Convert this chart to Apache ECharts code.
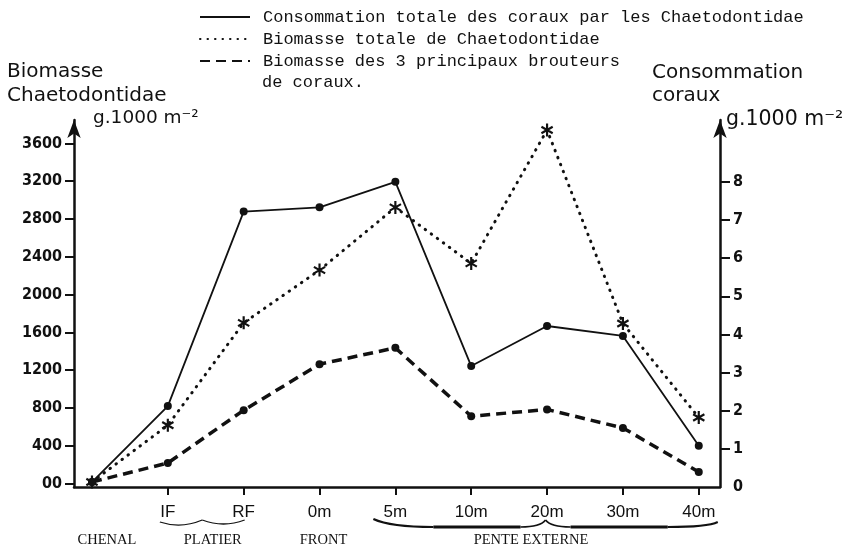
<!DOCTYPE html>
<html>
<head>
<meta charset="utf-8">
<script src="https://cdn.jsdelivr.net/npm/echarts@6.0.0/dist/echarts.min.js"></script>
<style>
	html, body { margin: 0; padding: 0; background: #fff; }
	#chart { width: 847px; height: 547px; }
</style>
</head>
<body>
<div id="chart"></div>
<script>
	// stations along the transect (index 0 = chenal, no label under the axis)
	var sites = ['', 'IF', 'RF', '0m', '5m', '10m', '20m', '30m', '40m'];
	// g.1000 m-2, right axis
	var consommation = [0.13, 2.12, 7.22, 7.33, 8.0, 3.17, 4.22, 3.96, 1.08];
	// g.1000 m-2, left axis
	var biomasseTotale = [17, 617, 1701, 2259, 2922, 2330, 3741, 1694, 699];
	var biomasseBrouteurs = [17, 218, 776, 1263, 1436, 713, 784, 589, 123];

	var leftTicks = [0, 400, 800, 1200, 1600, 2000, 2400, 2800, 3200, 3600];
	var leftTickLabels = ['00', '400', '800', '1200', '1600', '2000', '2400', '2800', '3200', '3600'];
	var rightTicks = [0, 1, 2, 3, 4, 5, 6, 7, 8];

	var zoneNames = ['CHENAL', 'PLATIER', 'FRONT', 'PENTE EXTERNE'];
	var zoneSpans = [[0, 0], [1, 2], [3, 3], [4, 8]];

	var legendNames = [
		'Consommation totale des coraux par les Chaetodontidae',
		'Biomasse totale de Chaetodontidae',
		'Biomasse des 3 principaux brouteurs'
	];

	function pairs(arr) {
		return arr.map(function (v, i) { return [i, v]; });
	}

	var asterisk = 'path://M-1,-6L1,-6L1,6L-1,6Z' +
		'M4.696,-3.866L5.696,-2.134L-4.696,3.866L-5.696,2.134Z' +
		'M-5.696,-2.134L-4.696,-3.866L5.696,2.134L4.696,3.866Z';

	var tickFont = "'Liberation Sans Narrow', 'DejaVu Sans Condensed', sans-serif";

	var dom = document.getElementById('chart');
	var myChart = echarts.init(dom, null, { renderer: 'canvas' });

	var option = {
		backgroundColor: '#fff',
		animation: false,
		legend: {
			orient: 'vertical',
			left: 194,
			top: 2,
			itemWidth: 50,
			itemHeight: 14,
			itemGap: 2,
			itemStyle: { opacity: 0 },
			data: legendNames,
			textStyle: {
				fontFamily: "'Liberation Mono', 'DejaVu Sans Mono', monospace",
				fontSize: 17,
				lineHeight: 20,
				color: '#111',
				padding: [0, 0, 0, 8]
			}
		},
		grid: {
			left: 74,
			right: 127,
			top: 120,
			bottom: 60,
			outerBoundsMode: 'none'
		},
		xAxis: {
			type: 'value',
			min: -0.237,
			max: 8.28,
			splitLine: { show: false },
			axisLine: { show: true, onZero: false, lineStyle: { color: '#111', width: 2.5 } },
			axisTick: {
				show: true,
				customValues: [1, 2, 3, 4, 5, 6, 7, 8],
				length: 8,
				lineStyle: { color: '#111', width: 2 }
			},
			axisLabel: {
				customValues: [1, 2, 3, 4, 5, 6, 7, 8],
				formatter: function (v) { return sites[Math.round(v)]; },
				margin: 17,
				fontFamily: "'Liberation Sans', Arial, sans-serif",
				fontSize: 17,
				color: '#111'
			}
		},
		yAxis: [
			{
				type: 'value',
				position: 'left',
				min: -36,
				max: 3847,
				splitLine: { show: false },
				axisLine: {
					show: true,
					onZero: false,
					symbol: ['none', 'arrow'],
					symbolSize: [10, 18],
					lineStyle: { color: '#111', width: 2.5 }
				},
				axisTick: {
					show: true,
					customValues: leftTicks,
					length: 9,
					lineStyle: { color: '#111', width: 2 }
				},
				axisLabel: {
					customValues: leftTicks,
					formatter: function (v) { return leftTickLabels[leftTicks.indexOf(v)]; },
					margin: 12,
					fontFamily: tickFont,
					fontWeight: 'bold',
					fontSize: 16,
					color: '#111'
				}
			},
			{
				type: 'value',
				position: 'right',
				min: 0,
				max: 9.62,
				splitLine: { show: false },
				axisLine: {
					show: true,
					onZero: false,
					symbol: ['none', 'arrow'],
					symbolSize: [10, 18],
					lineStyle: { color: '#111', width: 2.5 }
				},
				axisTick: {
					show: true,
					customValues: rightTicks.slice(1),
					length: 10,
					lineStyle: { color: '#111', width: 2 }
				},
				axisLabel: {
					customValues: rightTicks,
					margin: 13,
					fontFamily: tickFont,
					fontWeight: 'bold',
					fontSize: 16,
					color: '#111'
				}
			}
		],
		series: [
			{
				name: legendNames[0],
				type: 'line',
				yAxisIndex: 1,
				data: pairs(consommation),
				symbol: 'circle',
				symbolSize: 8,
				itemStyle: { color: '#111' },
				lineStyle: { color: '#111', width: 1.8, type: 'solid' }
			},
			{
				name: legendNames[1],
				type: 'line',
				yAxisIndex: 0,
				data: pairs(biomasseTotale),
				symbol: asterisk,
				symbolKeepAspect: true,
				symbolSize: 13,
				itemStyle: { color: '#111' },
				lineStyle: { color: '#111', width: 3, type: [0.5, 7], cap: 'round' }
			},
			{
				name: legendNames[2],
				type: 'line',
				yAxisIndex: 0,
				data: pairs(biomasseBrouteurs),
				symbol: 'circle',
				symbolSize: 8,
				itemStyle: { color: '#111' },
				lineStyle: { color: '#111', width: 3.5, type: [10, 6] }
			}
		]
	};
	myChart.setOption(option);

	// titles, zone names and braces under the axis
	var titleFont = "'DejaVu Sans', sans-serif";
	function txt(x, y, s, font, size, align) {
		return {
			type: 'text', x: x, y: y,
			style: { text: s, font: size + 'px ' + font, fill: '#111', align: align || 'left', verticalAlign: 'middle' }
		};
	}
	function curve(p0, c1, c2, p1, w) {
		var shape = { x1: p0[0], y1: p0[1], x2: p1[0], y2: p1[1], cpx1: c1[0], cpy1: c1[1] };
		if (c2) { shape.cpx2 = c2[0]; shape.cpy2 = c2[1]; }
		return { type: 'bezierCurve', shape: shape, style: { stroke: '#111', lineWidth: w, fill: null } };
	}
	function seg(p0, p1, w) {
		return { type: 'line', shape: { x1: p0[0], y1: p0[1], x2: p1[0], y2: p1[1] },
			style: { stroke: '#111', lineWidth: w } };
	}
	function px(i) {
		return myChart.convertToPixel({ xAxisIndex: 0 }, i);
	}
	var axisY = myChart.convertToPixel({ yAxisIndex: 1 }, 0);
	var monoFont = "'Liberation Mono', 'DejaVu Sans Mono', monospace";

	var graphics = [
		txt(7, 72, 'Biomasse', titleFont, 20),
		txt(7, 96, 'Chaetodontidae', titleFont, 20),
		txt(93, 118, 'g.1000 m⁻²', titleFont, 18.5),
		txt(652, 73, 'Consommation', titleFont, 20),
		txt(652, 96, 'coraux', titleFont, 20),
		txt(726, 120, 'g.1000 m⁻²', titleFont, 20.5),
		txt(262, 82, 'de coraux.', monoFont, 17)
	];

	var zoneShift = [15, 7, 4, -16];
	var braceEnds = [null, [-8, 1], null, [-22, 19]];
	zoneSpans.forEach(function (span, k) {
		var a = px(span[0]), b = px(span[1]);
		graphics.push(txt((a + b) / 2 + zoneShift[k], axisY + 53, zoneNames[k],
			"'Liberation Serif', 'DejaVu Serif', serif", 14.5, 'center'));
		if (!braceEnds[k]) return;
		var x0 = a + braceEnds[k][0], x1 = b + braceEnds[k][1];
		var xm = (x0 + x1) / 2;
		if (span[1] - span[0] === 1) {
			var y = axisY + 33;
			graphics.push(curve([x0, y + 2], [(x0 + xm) / 2, y + 9], null, [xm, y], 1.3));
			graphics.push(curve([xm, y], [(xm + x1) / 2, y + 8], null, [x1, y], 1.3));
		} else {
			var yb = axisY + 40, ye = axisY + 32;
			graphics.push(curve([x0, ye], [x0 + 15, yb - 1], [x0 + 40, yb], [x0 + 60, yb], 2.2));
			graphics.push(seg([x0 + 60, yb], [xm - 25, yb], 2.8));
			graphics.push(curve([xm - 25, yb], [xm - 10, yb], [xm - 3, yb - 3], [xm, yb - 7], 1.6));
			graphics.push(curve([xm, yb - 7], [xm + 3, yb - 3], [xm + 10, yb], [xm + 25, yb], 1.6));
			graphics.push(seg([xm + 25, yb], [x1 - 50, yb], 2.8));
			graphics.push(curve([x1 - 50, yb], [x1 - 25, yb], [x1 - 8, yb - 1], [x1, ye + 3], 2));
		}
	});

	myChart.setOption({ graphic: graphics });
</script>
</body>
</html>
